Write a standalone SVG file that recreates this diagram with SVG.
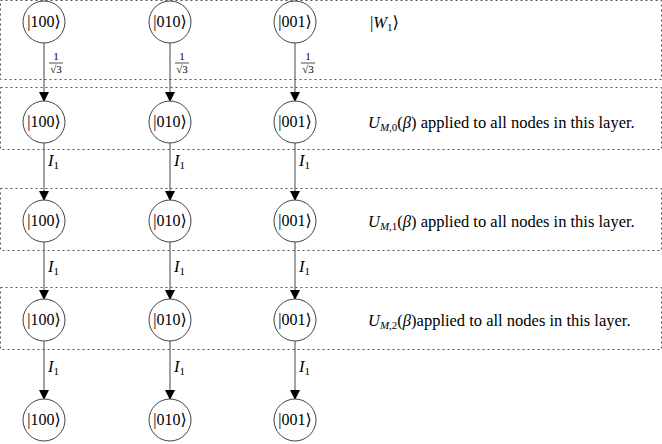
<svg xmlns="http://www.w3.org/2000/svg" width="662" height="444" viewBox="0 0 662 444" font-family="'Liberation Serif', 'Times New Roman', 'DejaVu Serif', 'Noto Serif', serif">
<style>
.b{fill:none;stroke:#555;stroke-width:1;stroke-dasharray:2,3}
.n circle{fill:#fff;stroke:#444;stroke-width:1}
text{font-family:'Liberation Serif','Times New Roman','DejaVu Serif',serif;fill:#000}
.k{font-size:16px;text-anchor:middle}
.l{font-size:16.5px}
.e line{stroke:#444;stroke-width:1;marker-end:url(#a)}
.s{font-size:11px;text-anchor:middle}
</style>
<defs><marker id="a" markerWidth="10" markerHeight="10" refX="9" refY="5" orient="auto" markerUnits="userSpaceOnUse"><path d="M0,0L10,5L0,10z" fill="#000"/></marker></defs>
<g id="boxes">
<rect class="b" x="0.5" y="0.5" width="661" height="79"/>
<rect class="b" x="0.5" y="87.5" width="661" height="62"/>
<rect class="b" x="0.5" y="188.5" width="661" height="62"/>
<rect class="b" x="0.5" y="287.5" width="661" height="62"/>
</g>
<g id="connectors" class="e">
<line x1="44" y1="43" x2="44" y2="101"/><line x1="170" y1="43" x2="170" y2="101"/><line x1="295" y1="43" x2="295" y2="101"/>
<line x1="44" y1="143" x2="44" y2="200"/><line x1="170" y1="143" x2="170" y2="200"/><line x1="295" y1="143" x2="295" y2="200"/>
<line x1="44" y1="242" x2="44" y2="299"/><line x1="170" y1="242" x2="170" y2="299"/><line x1="295" y1="242" x2="295" y2="299"/>
<line x1="44" y1="341" x2="44" y2="399"/><line x1="170" y1="341" x2="170" y2="399"/><line x1="295" y1="341" x2="295" y2="399"/>
</g>
<g id="edge-labels">
<g class="s"><text x="56" y="60">1</text><line x1="49" y1="63" x2="63" y2="63" stroke="#000" stroke-width="0.7"/><text x="56" y="73">√3</text></g>
<g class="s"><text x="182" y="60">1</text><line x1="175" y1="63" x2="189" y2="63" stroke="#000" stroke-width="0.7"/><text x="182" y="73">√3</text></g>
<g class="s"><text x="308" y="60">1</text><line x1="301" y1="63" x2="315" y2="63" stroke="#000" stroke-width="0.7"/><text x="308" y="73">√3</text></g>
<g class="l" font-style="italic">
<text x="48" y="166">I<tspan font-size="11" dy="3" font-style="normal">1</tspan></text>
<text x="174" y="166">I<tspan font-size="11" dy="3" font-style="normal">1</tspan></text>
<text x="299" y="166">I<tspan font-size="11" dy="3" font-style="normal">1</tspan></text>
<text x="48" y="272">I<tspan font-size="11" dy="3" font-style="normal">1</tspan></text>
<text x="174" y="272">I<tspan font-size="11" dy="3" font-style="normal">1</tspan></text>
<text x="299" y="272">I<tspan font-size="11" dy="3" font-style="normal">1</tspan></text>
<text x="48" y="372">I<tspan font-size="11" dy="3" font-style="normal">1</tspan></text>
<text x="174" y="372">I<tspan font-size="11" dy="3" font-style="normal">1</tspan></text>
<text x="299" y="372">I<tspan font-size="11" dy="3" font-style="normal">1</tspan></text>
</g>
</g>
<g id="n0" class="n"><circle cx="44" cy="22" r="21"/><text class="k" x="44" y="27">|100⟩</text></g>
<g id="n1" class="n"><circle cx="170" cy="22" r="21"/><text class="k" x="170" y="27">|010⟩</text></g>
<g id="n2" class="n"><circle cx="295" cy="22" r="21"/><text class="k" x="295" y="27">|001⟩</text></g>
<g id="n3" class="n"><circle cx="44" cy="122" r="21"/><text class="k" x="44" y="127">|100⟩</text></g>
<g id="n4" class="n"><circle cx="170" cy="122" r="21"/><text class="k" x="170" y="127">|010⟩</text></g>
<g id="n5" class="n"><circle cx="295" cy="122" r="21"/><text class="k" x="295" y="127">|001⟩</text></g>
<g id="n6" class="n"><circle cx="44" cy="221" r="21"/><text class="k" x="44" y="226">|100⟩</text></g>
<g id="n7" class="n"><circle cx="170" cy="221" r="21"/><text class="k" x="170" y="226">|010⟩</text></g>
<g id="n8" class="n"><circle cx="295" cy="221" r="21"/><text class="k" x="295" y="226">|001⟩</text></g>
<g id="n9" class="n"><circle cx="44" cy="320" r="21"/><text class="k" x="44" y="325">|100⟩</text></g>
<g id="n10" class="n"><circle cx="170" cy="320" r="21"/><text class="k" x="170" y="325">|010⟩</text></g>
<g id="n11" class="n"><circle cx="295" cy="320" r="21"/><text class="k" x="295" y="325">|001⟩</text></g>
<g id="n12" class="n"><circle cx="44" cy="420" r="21"/><text class="k" x="44" y="425">|100⟩</text></g>
<g id="n13" class="n"><circle cx="170" cy="420" r="21"/><text class="k" x="170" y="425">|010⟩</text></g>
<g id="n14" class="n"><circle cx="295" cy="420" r="21"/><text class="k" x="295" y="425">|001⟩</text></g>
<g id="layer-labels" class="l">
<text x="370" y="28">|<tspan font-style="italic">W</tspan><tspan font-size="11" dy="3">1</tspan><tspan dy="-3">⟩</tspan></text>
<text x="368" y="128"><tspan font-style="italic">U</tspan><tspan font-size="11" dy="3" font-style="italic">M,</tspan><tspan font-size="11">0</tspan><tspan dy="-3">(</tspan><tspan font-style="italic">β</tspan>) applied to all nodes in this layer.</text>
<text x="368" y="227"><tspan font-style="italic">U</tspan><tspan font-size="11" dy="3" font-style="italic">M,</tspan><tspan font-size="11">1</tspan><tspan dy="-3">(</tspan><tspan font-style="italic">β</tspan>) applied to all nodes in this layer.</text>
<text x="368" y="326"><tspan font-style="italic">U</tspan><tspan font-size="11" dy="3" font-style="italic">M,</tspan><tspan font-size="11">2</tspan><tspan dy="-3">(</tspan><tspan font-style="italic">β</tspan>)applied to all nodes in this layer.</text>
</g>
</svg>
